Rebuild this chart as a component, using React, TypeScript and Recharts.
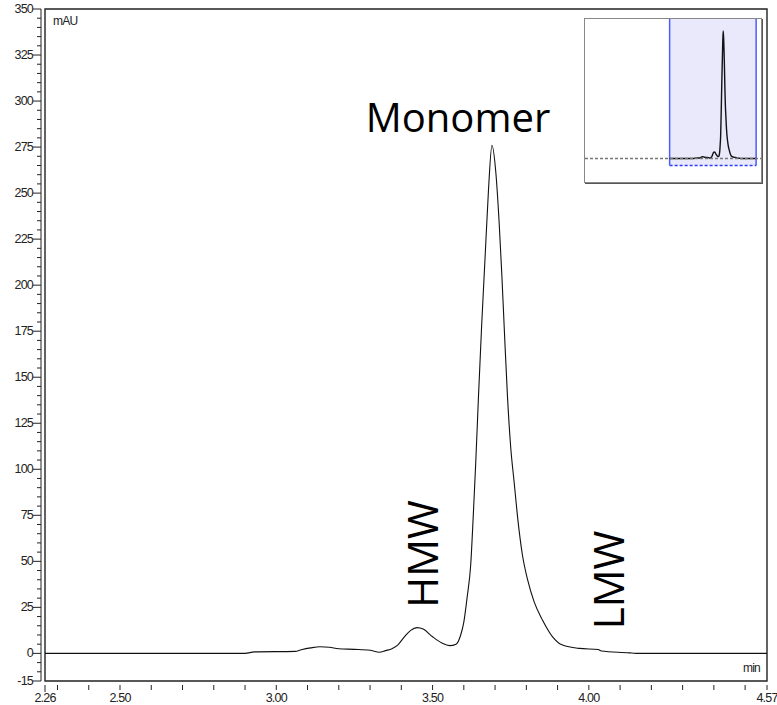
import { LineChart, Line, XAxis, YAxis, ReferenceArea, ReferenceLine } from 'recharts';

// retention time (min) and absorbance (mAU)
const TIME = [
  2.26, 2.9, 2.93, 3.06, 3.08, 3.11, 3.14, 3.17, 3.2, 3.25, 3.3, 3.33, 3.35, 3.37,
  3.39, 3.41, 3.43, 3.45, 3.47, 3.5, 3.53, 3.555, 3.575, 3.59, 3.6, 3.611, 3.622,
  3.63, 3.638, 3.647, 3.657, 3.668, 3.679, 3.69, 3.702, 3.713, 3.7215, 3.729, 3.7395,
  3.75, 3.761, 3.772, 3.787, 3.804, 3.825, 3.852, 3.884, 3.916, 3.97, 4.03, 4.04,
  4.13, 4.15, 4.57,
];
const ABS = [
  0, 0, 0.8, 1.1, 2.0, 3.0, 3.6, 3.3, 2.5, 2.2, 1.7, 0.6, 1.5, 2.5,
  4.8, 9.0, 12.5, 14.0, 13.2, 9.0, 5.6, 4.2, 5.0, 10, 17, 31, 48,
  74, 103, 140, 178, 215, 252, 276, 262, 234, 206, 178, 140,
  112, 93, 74, 54, 40, 28, 18, 9, 4.5, 2.7, 2.1, 1.3,
  0.3, 0, 0,
];

const X_TICKS = [2.26, 2.3, 2.4, 2.5, 2.6, 2.7, 2.8, 2.9, 3.0, 3.1, 3.2, 3.3, 3.4, 3.5, 3.6, 3.7, 3.8, 3.9, 4.0, 4.1, 4.2, 4.3, 4.4, 4.5, 4.57];
const X_LABELS = ['2.26', '2.50', '3.00', '3.50', '4.00', '4.57'];
const Y_MAJOR = [-15, 0, 25, 50, 75, 100, 125, 150, 175, 200, 225, 250, 275, 300, 325, 350];
const Y_TICKS = [
  -15, -10, -5, 0, 5, 10, 15, 20, 25, 30, 35, 40, 45, 50, 55, 60, 65, 70, 75, 80, 85, 90, 95, 100,
  105, 110, 115, 120, 125, 130, 135, 140, 145, 150, 155, 160, 165, 170, 175, 180, 185, 190, 195, 200,
  205, 210, 215, 220, 225, 230, 235, 240, 245, 250, 255, 260, 265, 270, 275, 280, 285, 290, 295, 300,
  305, 310, 315, 320, 325, 330, 335, 340, 345, 350,
];

const data = TIME.map((t, i) => ({ t, v: ABS[i] }));

const AXIS_FONT = '"Liberation Sans", Arial, sans-serif';
const LABEL_FONT = '"Open Sans", "Liberation Sans", sans-serif';

const XTick = ({ x, y, payload }: any) => {
  const v = payload.value;
  const label = X_LABELS.find(l => Math.abs(parseFloat(l) - v) < 1e-6);
  return (
    <g>
      <line x1={x} x2={x} y1={y + 4} y2={y + (v === 2.26 ? 11 : 9)} stroke="#222" strokeWidth={1} />
      {label && (
        <text x={x} y={y + 21} textAnchor="middle" fontSize={12.5} fill="#222" fontFamily={AXIS_FONT} letterSpacing={-0.8}>
          {label}
        </text>
      )}
    </g>
  );
};

const YTick = ({ x, y, payload }: any) => {
  const v = payload.value;
  const major = Y_MAJOR.includes(v);
  return (
    <g>
      <line x1={x - (major ? 8 : 4)} x2={x} y1={y} y2={y} stroke="#222" strokeWidth={1} />
      {major && (
        <text x={x - 8} y={y + 4} textAnchor="end" fontSize={12.5} fill="#222" fontFamily={AXIS_FONT} letterSpacing={-0.8}>
          {v}
        </text>
      )}
    </g>
  );
};

function Inset() {
  return (
    <div
      style={{
        position: 'absolute', left: 584, top: 18, width: 178, height: 165,
        border: '1px solid #888', boxShadow: '1px 1px 0 #555', background: '#fff', boxSizing: 'border-box',
      }}
    >
      <LineChart width={176} height={163} data={data} margin={{ top: 0, right: 0, bottom: 0, left: 0 }}>
        <XAxis dataKey="t" type="number" domain={[0, 4.7]} hide />
        <YAxis type="number" domain={[-51, 302]} hide />
        <ReferenceArea x1={2.26} x2={4.57} y1={-15} y2={302} fill="#e9e9fb" fillOpacity={1} stroke="none" />
        <ReferenceLine segment={[{ x: 2.26, y: -15 }, { x: 2.26, y: 302 }]} stroke="#4b5cff" strokeWidth={1.5} />
        <ReferenceLine segment={[{ x: 4.57, y: -15 }, { x: 4.57, y: 302 }]} stroke="#4b5cff" strokeWidth={1.5} />
        <ReferenceLine segment={[{ x: 2.26, y: -15 }, { x: 4.57, y: -15 }]} stroke="#2a3cff" strokeWidth={1.5} strokeDasharray="3 2" />
        <Line dataKey="v" type="monotone" stroke="#111" strokeWidth={1.4} dot={false} isAnimationActive={false} />
        <ReferenceLine y={0} stroke="#777" strokeWidth={1.5} strokeDasharray="3 2" />
      </LineChart>
    </div>
  );
}

export default function App() {
  return (
    <div style={{ position: 'absolute', left: 0, top: 0, width: 777, height: 705, background: '#fff' }}>
      <LineChart width={777} height={705} data={data} margin={{ top: 9, right: 10, bottom: 0, left: 0 }}>
        <XAxis
          dataKey="t" type="number" domain={[2.26, 4.57]} ticks={X_TICKS} interval={0}
          axisLine={false} tickLine={false} tickSize={0} tickMargin={0} height={24} tick={<XTick />}
        />
        <YAxis
          yAxisId="mau" type="number" domain={[-15, 350]} ticks={Y_TICKS} interval={0} width={41}
          axisLine={{ stroke: '#222', strokeWidth: 1 }} tickLine={false} tickSize={0} tickMargin={0} tick={<YTick />}
        />
        <YAxis yAxisId="gap" type="number" domain={[-15, 350]} width={4} axisLine={false} tickLine={false} tick={false} />
        <ReferenceArea yAxisId="mau" x1={2.26} x2={4.57} y1={-15} y2={350} fill="none" stroke="#222" strokeWidth={1.4} />
        <Line yAxisId="mau" dataKey="v" type="monotone" stroke="#111" strokeWidth={1.1} dot={false} isAnimationActive={false} />
      </LineChart>
      <svg width={777} height={705} style={{ position: 'absolute', left: 0, top: 0, pointerEvents: 'none' }}>
        <text x={53} y={25} fontSize={12} fill="#222" fontFamily={AXIS_FONT} letterSpacing={-0.8}>mAU</text>
        <text x={760} y={672} fontSize={12} fill="#222" fontFamily={AXIS_FONT} textAnchor="end" letterSpacing={-0.8}>min</text>
        <text x={458} y={132} fontSize={40} fill="#000" fontFamily={LABEL_FONT} textAnchor="middle">Monomer</text>
        <text transform="translate(438,554) rotate(-90)" fontSize={42} fill="#000" fontFamily={LABEL_FONT} textAnchor="middle">HMW</text>
        <text transform="translate(624,580) rotate(-90)" fontSize={42} fill="#000" fontFamily={LABEL_FONT} textAnchor="middle">LMW</text>
      </svg>
      <Inset />
    </div>
  );
}
